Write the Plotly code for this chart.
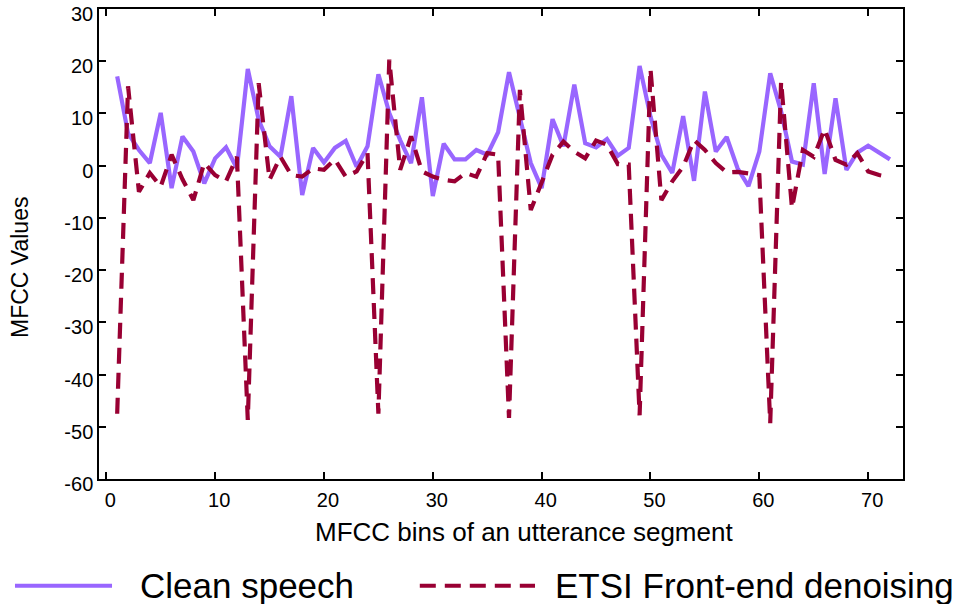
import plotly.graph_objects as go

bins = list(range(1, 73))

clean_speech = [
    17.1, 6.2, 3.0, 0.5, 10.1, -4.3, 5.6, 2.7, -3.4, 1.4, 3.5, -0.5,
    18.5, 8.8, 3.7, 1.7, 13.3, -5.6, 3.4, 0.6, 3.4, 4.75, -0.2, 3.7,
    17.5, 10.1, 4.9, 0.5, 13.1, -5.8, 4.2, 1.2, 1.2, 3.0, 2.1, 6.4,
    17.9, 8.8, 0.5, -4.3, 8.9, 3.7, 15.5, 4.3, 3.5, 5.1, 1.9, 3.4,
    19.1, 9.4, 2.1, -1.4, 9.5, -2.9, 14.2, 2.7, 5.5, -0.5, -3.9, 2.7,
    17.7, 10.4, 0.8, 0.2, 15.8, -1.6, 12.9, -0.8, 2.5, 3.8, 2.5, 1.2,
]

etsi_denoising = [
    -47.5, 15.2, -5.0, -1.4, -4.0, 2.1, -2.6, -6.6, 0.5, -1.8, -3.0, 1.7,
    -48.7, 15.8, -2.7, 1.7, -1.8, -2.1, -0.5, -0.8, 1.2, -2.1, -1.1, 2.4,
    -47.5, 20.3, -0.8, 5.6, -1.1, -2.1, -2.7, -3.0, -1.4, -2.1, 2.4, 2.1,
    -48.3, 14.5, -8.5, -3.4, 2.1, 4.6, 2.7, 1.4, 4.8, 4.0, 0.3, 0.2,
    -47.8, 18.5, -6.6, -3.0, -0.2, 4.9, 3.0, 0.5, -1.3, -1.2, -1.5, -1.8,
    -49.3, 16.1, -8.1, 3.0, 1.7, 7.0, 1.1, 0.2, 2.4, -1.1, -1.8, -2.2,
]

x_ticks = [0, 10, 20, 30, 40, 50, 60, 70]
y_ticks = [30, 20, 10, 0, -10, -20, -30, -40, -50, -60]

series_names = ["Clean speech", "ETSI Front-end denoising"]
x_title = "MFCC bins of an utterance segment"
y_title = "MFCC Values"

PURPLE = "#9966FF"
RED = "#990033"
DASH = "16px,9px"
FONT = "Liberation Sans, Arial, Helvetica, sans-serif"

fig = go.Figure()
fig.add_trace(go.Scatter(x=bins, y=clean_speech, mode="lines", name=series_names[0],
                         line=dict(color=PURPLE, width=4.2), showlegend=False))
fig.add_trace(go.Scatter(x=bins, y=etsi_denoising, mode="lines", name=series_names[1],
                         line=dict(color=RED, width=4.2, dash=DASH), showlegend=False))

axis_common = dict(
    showline=True, linecolor="black", linewidth=1.5, mirror="ticks",
    ticks="inside", ticklen=7, tickwidth=1.5, tickcolor="black",
    showgrid=False, zeroline=False, ticklabeloverflow="allow",
    tickfont=dict(family=FONT, size=20, color="black"),
)

fig.update_xaxes(range=[-0.67, 73.2], tickvals=x_ticks, ticktext=[str(v) for v in x_ticks],
                 ticklabelshift=4, ticklabelstandoff=2, **axis_common)
fig.update_yaxes(range=[-60, 30], tickvals=y_ticks, ticktext=[str(v) for v in y_ticks],
                 ticklabelstandoff=0, ticklabelshift=5, **axis_common)

annotations = [
    dict(text=x_title, x=0.528, y=-0.1128, xref="paper", yref="paper",
         xanchor="center", yanchor="middle", showarrow=False,
         font=dict(family=FONT, size=26, color="black")),
    dict(text=y_title, x=-0.0983, y=0.451, xref="paper", yref="paper",
         xanchor="center", yanchor="middle", showarrow=False, textangle=-90,
         font=dict(family=FONT, size=23, color="black")),
    dict(text=series_names[0], x=0.0481, y=-0.227, xref="paper", yref="paper",
         xanchor="left", yanchor="middle", showarrow=False,
         font=dict(family=FONT, size=35, color="black")),
    dict(text=series_names[1], x=0.5647, y=-0.227, xref="paper", yref="paper",
         xanchor="left", yanchor="middle", showarrow=False,
         font=dict(family=FONT, size=35, color="black")),
]

shapes = [
    dict(type="line", xref="paper", yref="paper", x0=-0.1045, x1=0.0162, y0=-0.227, y1=-0.227,
         line=dict(color=PURPLE, width=4)),
    dict(type="line", xref="paper", yref="paper", x0=0.399, x1=0.5423, y0=-0.227, y1=-0.227,
         line=dict(color=RED, width=4, dash=DASH)),
]

fig.update_layout(
    width=978, height=604,
    margin=dict(l=99, r=75, t=9, b=125, autoexpand=False),
    plot_bgcolor="white", paper_bgcolor="white",
    showlegend=False,
    annotations=annotations,
    shapes=shapes,
    font=dict(family=FONT, color="black"),
)

fig.write_html("out.html")
